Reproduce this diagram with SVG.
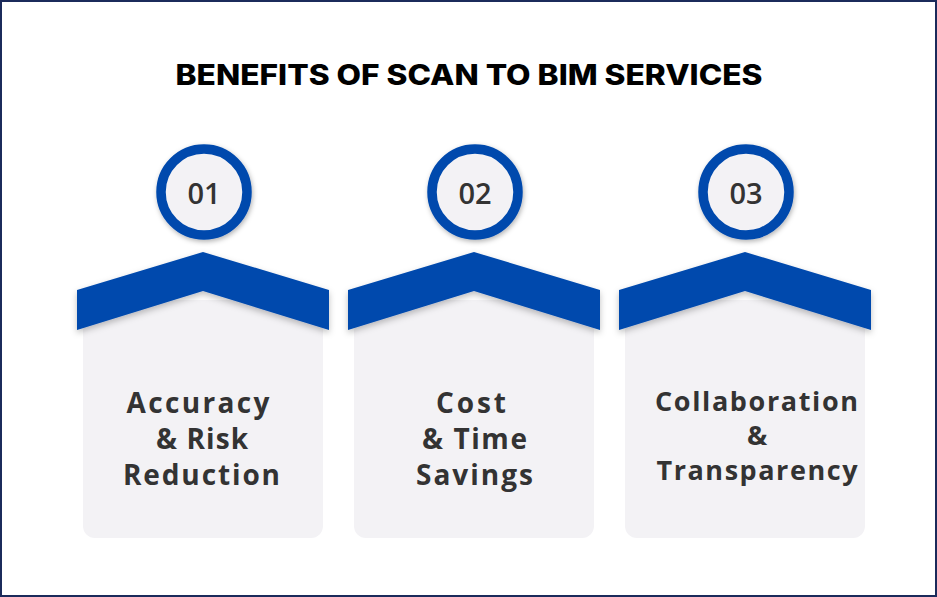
<svg xmlns="http://www.w3.org/2000/svg" width="937" height="597" viewBox="0 0 937 597">
<defs>
<filter id="sh" x="-20%" y="-20%" width="140%" height="160%">
<feDropShadow dx="0" dy="3" stdDeviation="3" flood-color="#000" flood-opacity="0.25"/>
</filter>
<filter id="csh" x="-30%" y="-30%" width="160%" height="160%">
<feDropShadow dx="1" dy="2" stdDeviation="2.5" flood-color="#000" flood-opacity="0.3"/>
</filter>
</defs>
<style>
.card{fill:#f3f2f5}
.chev{fill:#004aad}
.ring{fill:#f3f2f5;stroke:#004aad;stroke-width:9.5}
.num{font-family:"Open Sans","Noto Sans",sans-serif;font-weight:600;font-size:29px;fill:#333;text-anchor:middle}
.lbl{font-family:"Open Sans","Noto Sans",sans-serif;font-weight:700;font-size:28px;fill:#333;text-anchor:middle}
.sm{font-size:27px}
.title{font-family:"Inter","Liberation Sans",sans-serif;font-weight:800;font-size:28px;fill:#000;text-anchor:middle}
</style>
<rect x="1" y="1" width="935" height="595" fill="#fff" stroke="#1b2b5b" stroke-width="2"/>
<text class="title" x="469" y="85" textLength="587" lengthAdjust="spacingAndGlyphs">BENEFITS OF SCAN TO BIM SERVICES</text>
<g id="node1">
<rect class="card" x="83" y="300" width="240" height="238" rx="12"/>
<polygon class="chev" filter="url(#sh)" points="77,290 203,252 329,290 329,330 203,291 77,330"/>
<circle class="ring" filter="url(#csh)" cx="204" cy="192" r="43"/>
<text class="num" x="204" y="204">01</text>
<text class="lbl" x="198" y="413" textLength="143">Accuracy</text>
<text class="lbl" x="202" y="449" textLength="92">&amp; Risk</text>
<text class="lbl" x="201.5" y="485" textLength="157">Reduction</text>
</g>
<g id="node2">
<rect class="card" x="354" y="300" width="240" height="238" rx="12"/>
<polygon class="chev" filter="url(#sh)" points="348,290 474,252 600,290 600,330 474,291 348,330"/>
<circle class="ring" filter="url(#csh)" cx="475" cy="192" r="43"/>
<text class="num" x="475" y="204">02</text>
<text class="lbl" x="471" y="413" textLength="70">Cost</text>
<text class="lbl" x="474.5" y="449" textLength="105">&amp; Time</text>
<text class="lbl" x="474.5" y="485" textLength="117">Savings</text>
</g>
<g id="node3">
<rect class="card" x="625" y="300" width="240" height="238" rx="12"/>
<polygon class="chev" filter="url(#sh)" points="619,290 745,252 871,290 871,330 745,291 619,330"/>
<circle class="ring" filter="url(#csh)" cx="746" cy="192" r="43"/>
<text class="num" x="746" y="204">03</text>
<text class="lbl sm" x="756.5" y="411" textLength="203">Collaboration</text>
<text class="lbl sm" x="757" y="445" textLength="19">&amp;</text>
<text class="lbl sm" x="757" y="480" textLength="201">Transparency</text>
</g>
<g id="connectors"/>
</svg>
